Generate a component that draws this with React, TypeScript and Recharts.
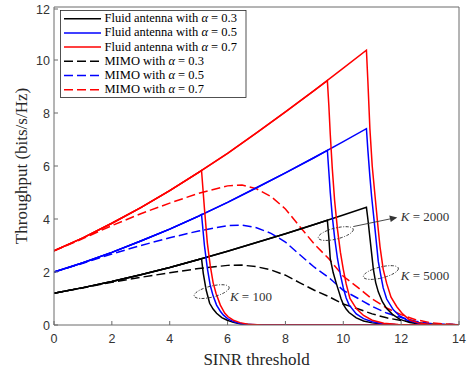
import { ComposedChart, Line, XAxis, YAxis, ReferenceDot } from 'recharts';

const xTicks = [0, 2, 4, 6, 8, 10, 12, 14];
const yTicks = [0, 2, 4, 6, 8, 10, 12];

// fluid antenna throughput before the outage cliff (shared by every K)
const riseX = [0, 1, 2, 3, 4, 5, 6, 7, 8, 9, 10];
const riseA03 = [1.2, 1.41, 1.64, 1.9, 2.17, 2.47, 2.78, 3.11, 3.44, 3.79, 4.15];
const riseA05 = [2.0, 2.35, 2.74, 3.17, 3.62, 4.11, 4.63, 5.18, 5.74, 6.32, 6.92];
const riseA07 = [2.8, 3.29, 3.84, 4.43, 5.07, 5.76, 6.48, 7.25, 8.04, 8.85, 9.69];

// K = 100 cliff
const k100X03 = [5.1, 5.16, 5.26, 5.38, 5.5, 5.62, 5.8, 5.97, 6.2, 6.45, 7.0, 14];
const k100Y03 = [2.5, 1.95, 1.32, 0.82, 0.6, 0.44, 0.28, 0.19, 0.1, 0.04, 0, 0];
const k100X05 = [5.1, 5.2, 5.3, 5.4, 5.5, 5.62, 5.75, 5.85, 6.0, 6.2, 6.4, 6.6, 7.2, 14];
const k100Y05 = [4.17, 3.0, 2.15, 1.5, 1.1, 0.75, 0.52, 0.38, 0.24, 0.13, 0.07, 0.03, 0, 0];
const k100X07 = [5.1, 5.2, 5.3, 5.4, 5.5, 5.6, 5.75, 5.9, 6.02, 6.2, 6.43, 6.7, 7.2, 14];
const k100Y07 = [5.83, 4.4, 3.1, 2.25, 1.6, 1.2, 0.75, 0.45, 0.31, 0.18, 0.09, 0.03, 0, 0];

// K = 2000 cliff
const k2000X03 = [9.45, 9.5, 9.55, 9.65, 9.75, 9.85, 9.92, 10.0, 10.1, 10.2, 10.45, 10.7, 11.0, 11.5, 12.0, 14];
const k2000Y03 = [3.95, 3.3, 2.5, 1.98, 1.6, 1.25, 1.0, 0.78, 0.6, 0.47, 0.27, 0.15, 0.08, 0.02, 0, 0];
const k2000X05 = [9.45, 9.5, 9.55, 9.62, 9.7, 9.8, 9.9, 10.0, 10.1, 10.2, 10.45, 10.7, 11.0, 11.3, 11.8, 12.4, 14];
const k2000Y05 = [6.59, 5.8, 5.0, 4.1, 3.3, 2.5, 1.9, 1.4, 1.02, 0.76, 0.42, 0.24, 0.12, 0.06, 0.02, 0, 0];
const k2000X07 = [9.45, 9.5, 9.55, 9.62, 9.7, 9.8, 9.9, 10.0, 10.1, 10.23, 10.45, 10.7, 11.0, 11.4, 11.9, 12.5, 14];
const k2000Y07 = [9.22, 8.3, 7.2, 5.9, 4.7, 3.6, 2.75, 2.1, 1.55, 1.0, 0.62, 0.36, 0.18, 0.07, 0.02, 0, 0];

// K = 5000 cliff
const k5000X03 = [10.8, 10.85, 10.92, 11.04, 11.12, 11.21, 11.35, 11.5, 11.7, 11.96, 12.3, 12.7, 13.2, 14];
const k5000Y03 = [4.44, 4.0, 3.3, 2.1, 1.6, 1.25, 0.88, 0.62, 0.4, 0.21, 0.09, 0.03, 0, 0];
const k5000X05 = [10.8, 10.85, 10.92, 10.98, 11.1, 11.21, 11.3, 11.38, 11.5, 11.73, 11.95, 12.2, 12.6, 13.0, 13.5, 14];
const k5000Y05 = [7.41, 6.6, 5.6, 4.84, 3.58, 2.4, 1.85, 1.4, 0.98, 0.57, 0.34, 0.19, 0.07, 0.02, 0, 0];
const k5000X07 = [10.8, 10.85, 10.92, 11.0, 11.1, 11.2, 11.27, 11.38, 11.5, 11.65, 11.85, 12.05, 12.3, 12.6, 13.0, 13.6, 14];
const k5000Y07 = [10.37, 9.2, 7.4, 6.0, 4.84, 3.7, 2.95, 2.1, 1.57, 1.05, 0.69, 0.42, 0.19, 0.08, 0.02, 0, 0];

// MIMO
const mimoX = [0, 1, 2, 3, 4, 5, 6, 6.5, 7, 7.5, 8, 8.5, 9, 9.5, 10, 10.5, 11, 11.5, 12, 12.5, 13, 13.5, 14];
const mimoA03 = [1.2, 1.4, 1.61, 1.8, 1.97, 2.13, 2.25, 2.26, 2.2, 2.08, 1.88, 1.59, 1.31, 1.07, 0.79, 0.61, 0.42, 0.27, 0.17, 0.09, 0.04, 0.02, 0.01];
const mimoA05 = [2.0, 2.33, 2.68, 3.0, 3.29, 3.55, 3.75, 3.77, 3.67, 3.46, 3.13, 2.65, 2.18, 1.79, 1.31, 1.01, 0.7, 0.45, 0.28, 0.14, 0.06, 0.03, 0.01];
const mimoA07 = [2.8, 3.26, 3.75, 4.2, 4.6, 4.97, 5.25, 5.28, 5.14, 4.85, 4.38, 3.71, 3.05, 2.5, 1.84, 1.42, 0.98, 0.64, 0.39, 0.2, 0.09, 0.04, 0.01];

const legendNames = [
  'Fluid antenna with ',
  'Fluid antenna with ',
  'Fluid antenna with ',
  'MIMO with ',
  'MIMO with ',
  'MIMO with ',
];
const alphaLabels = ['0.3', '0.5', '0.7', '0.3', '0.5', '0.7'];

const BLACK = '#000000';
const BLUE = '#0000ff';
const RED = '#ff0000';
const AXIS = '#6a6a6a';

function branch(riseY: number[], dropX: number[], dropY: number[]) {
  const pts: { x: number; y: number }[] = [];
  riseX.forEach((x, i) => {
    if (x < dropX[0]) pts.push({ x, y: riseY[i] });
  });
  dropX.forEach((x, i) => pts.push({ x, y: dropY[i] }));
  return pts;
}

const toPts = (xs: number[], ys: number[]) => xs.map((x, i) => ({ x, y: ys[i] }));

const dashed = [
  { key: 'm03', color: BLACK, data: toPts(mimoX, mimoA03) },
  { key: 'm05', color: BLUE, data: toPts(mimoX, mimoA05) },
  { key: 'm07', color: RED, data: toPts(mimoX, mimoA07) },
];

const solid = [
  { key: 'f03a', color: BLACK, data: branch(riseA03, k100X03, k100Y03) },
  { key: 'f03b', color: BLACK, data: branch(riseA03, k2000X03, k2000Y03) },
  { key: 'f03c', color: BLACK, data: branch(riseA03, k5000X03, k5000Y03) },
  { key: 'f05a', color: BLUE, data: branch(riseA05, k100X05, k100Y05) },
  { key: 'f05b', color: BLUE, data: branch(riseA05, k2000X05, k2000Y05) },
  { key: 'f05c', color: BLUE, data: branch(riseA05, k5000X05, k5000Y05) },
  { key: 'f07a', color: RED, data: branch(riseA07, k100X07, k100Y07) },
  { key: 'f07b', color: RED, data: branch(riseA07, k2000X07, k2000Y07) },
  { key: 'f07c', color: RED, data: branch(riseA07, k5000X07, k5000Y07) },
];

const legendColors = [BLACK, BLUE, RED, BLACK, BLUE, RED];

const tickFont = { fontFamily: '"Liberation Sans", Arial, sans-serif', fontSize: 12.5, fill: '#333' };
const serif = '"Liberation Serif", "Times New Roman", serif';

const BottomTick = (p: any) => (
  <g>
    <line x1={p.x} x2={p.x} y1={p.y} y2={p.y - 4} stroke={AXIS} />
    <text x={p.x} y={p.y + 18} textAnchor="middle" {...tickFont}>
      {p.payload.value}
    </text>
  </g>
);
const TopTick = (p: any) => <line x1={p.x} x2={p.x} y1={p.y} y2={p.y + 4} stroke={AXIS} />;
const LeftTick = (p: any) => (
  <g>
    <line x1={p.x} x2={p.x + 4} y1={p.y} y2={p.y} stroke={AXIS} />
    <text x={p.x - 4} y={p.y + 4.5} textAnchor="end" {...tickFont}>
      {p.payload.value}
    </text>
  </g>
);
const RightTick = (p: any) => <line x1={p.x} x2={p.x - 4} y1={p.y} y2={p.y} stroke={AXIS} />;

const ellipseShape = (p: any) => (
  <ellipse
    cx={p.cx}
    cy={p.cy}
    rx={18}
    ry={5.5}
    transform={`rotate(-14 ${p.cx} ${p.cy})`}
    fill="none"
    stroke="#333"
    strokeWidth={0.9}
    strokeDasharray="3 1.5 1 1.5"
  />
);

const ellipseArrowShape = (p: any) => (
  <g>
    {ellipseShape(p)}
    <line x1={p.cx + 17.5} y1={p.cy - 7} x2={p.cx + 55} y2={p.cy - 14.8} stroke="#333" strokeWidth={0.9} />
    <path
      d={`M ${p.cx + 61.5} ${p.cy - 16.2} L ${p.cx + 53.5} ${p.cy - 18} L ${p.cx + 55} ${p.cy - 11.6} Z`}
      fill="#333"
    />
  </g>
);

const kLabel = (value: string) => (p: any) => (
  <text x={p.cx} y={p.cy + 4.5} fontFamily={serif} fontSize={13} fill="#333">
    <tspan fontStyle="italic">K</tspan> = {value}
  </text>
);

export default function App() {
  return (
    <div style={{ position: 'absolute', left: 0, top: 0, width: 471, height: 374, background: '#fff' }}>
      <ComposedChart width={471} height={374} margin={{ top: 6, right: 11, bottom: 0, left: 0 }}>
        <XAxis
          dataKey="x"
          type="number"
          domain={[0, 14]}
          ticks={xTicks}
          height={49}
          tickSize={0}
          tickMargin={0}
          tickLine={false}
          tick={BottomTick}
          axisLine={{ stroke: AXIS }}
          allowDataOverflow
          label={{
            content: (lp: any) => (
              <text
                x={lp.viewBox.x + lp.viewBox.width / 2}
                y={lp.viewBox.y + 40}
                textAnchor="middle"
                fontFamily={serif}
                fontSize={17}
                fill="#262626"
              >
                SINR threshold
              </text>
            ),
          }}
        />
        <XAxis
          xAxisId="top"
          orientation="top"
          type="number"
          domain={[0, 14]}
          ticks={xTicks}
          height={1}
          tickSize={0}
          tickMargin={0}
          tickLine={false}
          tick={TopTick}
          axisLine={{ stroke: AXIS }}
        />
        <YAxis
          type="number"
          domain={[0, 12]}
          ticks={yTicks}
          width={54}
          tickSize={0}
          tickMargin={0}
          tickLine={false}
          tick={LeftTick}
          axisLine={{ stroke: AXIS }}
          allowDataOverflow
          label={{
            content: (lp: any) => {
              const cx = 27;
              const cy = lp.viewBox.y + lp.viewBox.height / 2;
              return (
                <text
                  x={cx}
                  y={cy}
                  transform={`rotate(-90 ${cx} ${cy})`}
                  textAnchor="middle"
                  fontFamily={serif}
                  fontSize={17}
                  fill="#262626"
                >
                  Throughput (bits/s/Hz)
                </text>
              );
            },
          }}
        />
        <YAxis
          yAxisId="right"
          orientation="right"
          type="number"
          domain={[0, 12]}
          ticks={yTicks}
          width={1}
          tickSize={0}
          tickMargin={0}
          tickLine={false}
          tick={RightTick}
          axisLine={{ stroke: AXIS }}
        />

        {dashed.map((s) => (
          <Line
            key={s.key}
            data={s.data}
            dataKey="y"
            type="linear"
            stroke={s.color}
            strokeWidth={1.5}
            strokeDasharray="9 4"
            dot={false}
            activeDot={false}
            isAnimationActive={false}
          />
        ))}
        {solid.map((s) => (
          <Line
            key={s.key}
            data={s.data}
            dataKey="y"
            type="linear"
            stroke={s.color}
            strokeWidth={1.5}
            dot={false}
            activeDot={false}
            isAnimationActive={false}
          />
        ))}

        <ReferenceDot x={5.45} y={1.26} r={1} shape={ellipseShape} />
        <ReferenceDot x={9.74} y={3.45} r={1} shape={ellipseArrowShape} />
        <ReferenceDot x={11.3} y={1.98} r={1} shape={ellipseShape} />
        <ReferenceDot x={6.08} y={1.09} r={1} shape={kLabel('100')} />
        <ReferenceDot x={11.99} y={4.08} r={1} shape={kLabel('2000')} />
        <ReferenceDot x={11.99} y={1.85} r={1} shape={kLabel('5000')} />
      </ComposedChart>

      <svg width={471} height={374} style={{ position: 'absolute', left: 0, top: 0, pointerEvents: 'none' }}>
        <rect x={60.5} y={10.5} width={185.5} height={87} fill="#fff" stroke="#262626" strokeWidth={0.8} />
        {legendNames.map((name, i) => {
          const cy = 17.2 + 14.2 * i;
          return (
            <g key={i}>
              <line
                x1={64}
                x2={101}
                y1={cy + 1.5}
                y2={cy + 1.5}
                stroke={legendColors[i]}
                strokeWidth={1.5}
                strokeDasharray={i >= 3 ? '9 4' : undefined}
              />
              <text x={104.5} y={cy + 5} fontFamily={serif} fontSize={12.5} fill="#000">
                {name}
                <tspan fontStyle="italic">α</tspan> = {alphaLabels[i]}
              </text>
            </g>
          );
        })}
      </svg>
    </div>
  );
}
